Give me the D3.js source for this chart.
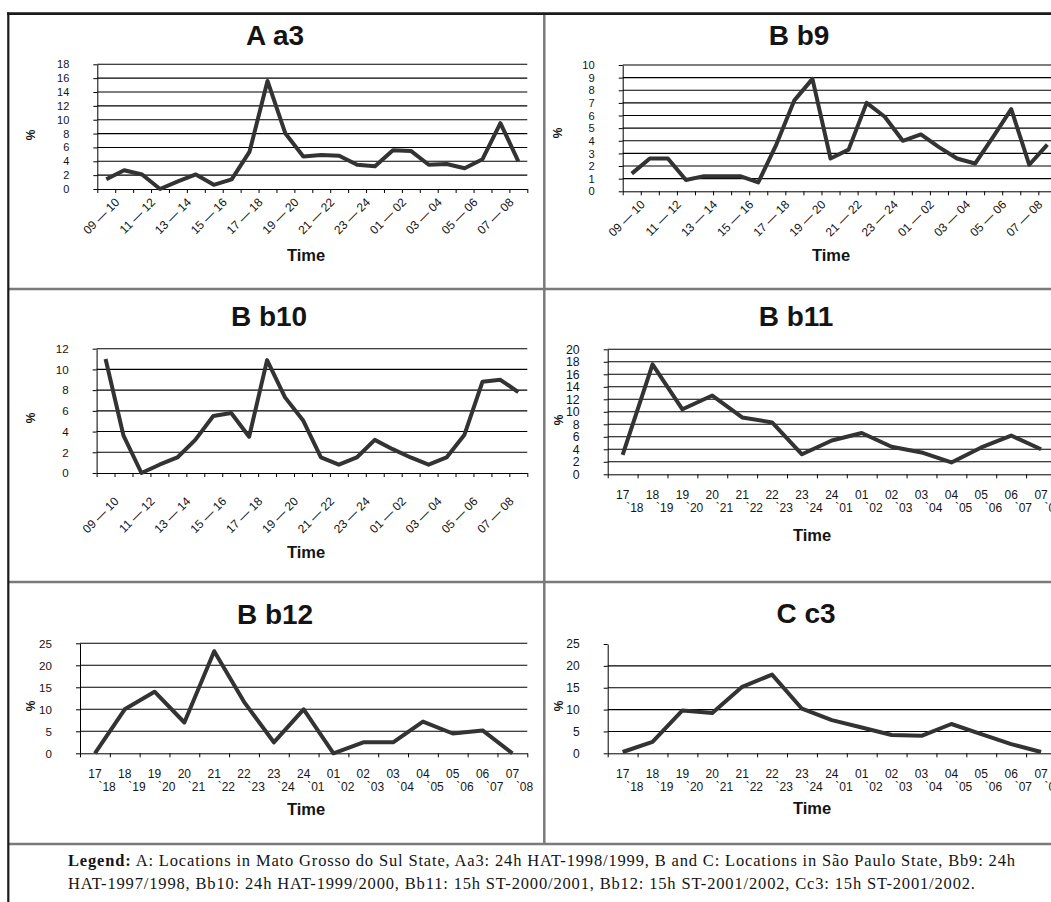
<!DOCTYPE html>
<html>
<head>
<meta charset="utf-8">
<script src="https://cdn.jsdelivr.net/npm/d3@7"></script>
<style>
  body { margin: 0; background: #fff; }
  svg text { font-family: "Liberation Sans", Arial, sans-serif; fill: #141414; }
  svg .legend text { font-family: "Liberation Serif", "DejaVu Serif", serif; }
</style>
</head>
<body>
<script>
// categories (hour intervals)
var cats24 = ["09 — 10", "10 — 11", "11 — 12", "12 — 13", "13 — 14", "14 — 15", "15 — 16", "16 — 17",
  "17 — 18", "18 — 19", "19 — 20", "20 — 21", "21 — 22", "22 — 23", "23 — 24", "24 — 01",
  "01 — 02", "02 — 03", "03 — 04", "04 — 05", "05 — 06", "06 — 07", "07 — 08", "08 — 09"];
var cats15 = ["17`18", "18`19", "19`20", "20`21", "21`22", "22`23", "23`24", "24`01",
  "01`02", "02`03", "03`04", "04`05", "05`06", "06`07", "07`08"];

// % values
var valsAa3 = [1.4, 2.7, 2.1, 0, 1.1, 2.1, 0.6, 1.4, 5.4, 15.6, 8.0, 4.7, 4.9, 4.8, 3.5, 3.3, 5.6, 5.5, 3.5, 3.6, 3.0, 4.3, 9.5, 4.0];
var valsBb9 = [1.4, 2.6, 2.6, 0.9, 1.2, 1.2, 1.2, 0.7, 3.7, 7.2, 8.9, 2.6, 3.3, 7.0, 5.9, 4.0, 4.5, 3.5, 2.6, 2.2, 4.3, 6.5, 2.1, 3.7];
var valsBb10 = [11.0, 3.6, 0, 0.8, 1.5, 3.2, 5.5, 5.8, 3.5, 10.9, 7.3, 5.1, 1.5, 0.8, 1.5, 3.2, 2.3, 1.5, 0.8, 1.5, 3.7, 8.8, 9.0, 7.8];
var valsBb11 = [3.1, 17.6, 10.4, 12.6, 9.1, 8.3, 3.2, 5.4, 6.6, 4.4, 3.5, 1.9, 4.3, 6.2, 4.0];
var valsBb12 = [0, 10.0, 14.0, 7.0, 23.2, 11.7, 2.5, 10.0, 0, 2.5, 2.5, 7.2, 4.5, 5.2, 0];
var valsCc3 = [0.3, 2.6, 9.8, 9.2, 15.2, 18.0, 10.2, 7.6, 5.9, 4.2, 4.0, 6.7, 4.4, 2.1, 0.3];

// y tick labels
var ticksAa3 = [0, 2, 4, 6, 8, 10, 12, 14, 16, 18];
var ticksBb9 = [0, 1, 2, 3, 4, 5, 6, 7, 8, 9, 10];
var ticksBb10 = [0, 2, 4, 6, 8, 10, 12];
var ticksBb11 = [0, 2, 4, 6, 8, 10, 12, 14, 16, 18, 20];
var ticksBb12 = [0, 5, 10, 15, 20, 25];
var ticksCc3 = [0, 5, 10, 15, 20, 25];

var titles = ["A a3", "B b9", "B b10", "B b11", "B b12", "C c3"];

var legendLine1 = "A: Locations in Mato Grosso do Sul State, Aa3: 24h HAT-1998/1999, B and C: Locations in São Paulo State, Bb9: 24h";
var legendLine2 = "HAT-1997/1998, Bb10: 24h HAT-1999/2000, Bb11: 15h ST-2000/2001, Bb12: 15h ST-2001/2002, Cc3: 15h ST-2001/2002.";

var svg = d3.select("body").append("svg")
  .attr("width", 1051)
  .attr("height", 902);

function drawPanel(p, cats, vals, ticks, title) {
  var g = svg.append("g");
  var top = d3.max(ticks);

  var x = d3.scaleBand().domain(d3.range(cats.length)).range([p.x0, p.x1]);
  var xEdge = d3.scaleLinear().domain([0, cats.length]).range([p.x0, p.x1]);
  var y = d3.scaleLinear().domain([0, top]).range([p.yBot, p.yTop]);
  var cx = i => x(i) + x.bandwidth() / 2;

  // gridlines
  g.selectAll("line.grid")
    .data(ticks.filter(t => t > 0 && (p.topGrid || t < top)))
    .enter()
    .append("line")
    .attr("x1", p.x0)
    .attr("x2", p.x1)
    .attr("y1", d => y(d))
    .attr("y2", d => y(d))
    .attr("stroke", "#000")
    .attr("stroke-width", 1.1);

  var yAxis = g.append("g")
    .attr("transform", `translate(${p.x0},0)`)
    .call(d3.axisLeft(y).tickValues(ticks).tickSize(4).tickSizeOuter(0).tickPadding(24));
  yAxis.selectAll("text").attr("font-size", p.yFont);

  // ticks sit on the category edges
  g.append("g")
    .attr("transform", `translate(0,${p.yBot})`)
    .call(d3.axisBottom(xEdge).tickValues(d3.range(cats.length + 1)).tickSize(4).tickSizeOuter(0).tickFormat(""));

  g.selectAll("path.domain, .tick line").attr("stroke", "#000");

  // x labels
  if (p.rotate) {
    g.selectAll("text.xl")
      .data(cats.map((c, i) => ({c: c, i: i})).filter(d => d.i % 2 === 0))
      .enter()
      .append("text")
      .attr("transform", d => `translate(${cx(d.i) + 11},${p.yBot + p.labY}) rotate(-45)`)
      .attr("text-anchor", "end")
      .attr("dy", "0.35em")
      .attr("font-size", 12)
      .text(d => d.c);
  } else {
    var lab = g.selectAll("text.xl")
      .data(cats)
      .enter()
      .append("text")
      .attr("font-size", 12);
    lab.append("tspan")
      .attr("x", (d, i) => cx(i))
      .attr("y", p.yBot + 25)
      .attr("text-anchor", "middle")
      .text(d => d.split("`")[0]);
    lab.append("tspan")
      .attr("x", (d, i) => cx(i) + 3.5)
      .attr("y", p.yBot + 38)
      .text(d => "`" + d.split("`")[1]);
  }

  var line = d3.line()
    .x((d, i) => cx(i))
    .y(d => y(d));

  g.append("path")
    .datum(vals)
    .attr("d", line)
    .attr("fill", "none")
    .attr("stroke", "#333")
    .attr("stroke-width", 4)
    .attr("stroke-linejoin", "round");

  g.append("text")
    .attr("x", p.tx)
    .attr("y", p.ty)
    .attr("text-anchor", "middle")
    .attr("font-size", 28)
    .attr("font-weight", "bold")
    .text(title);

  g.append("text")
    .attr("transform", `translate(${p.px},${p.py}) rotate(-90)`)
    .attr("text-anchor", "middle")
    .attr("dy", "0.35em")
    .attr("font-size", 12)
    .attr("font-weight", "bold")
    .text("%");

  g.append("text")
    .attr("x", p.mx)
    .attr("y", p.my)
    .attr("text-anchor", "middle")
    .attr("font-size", 16.5)
    .attr("font-weight", "bold")
    .text("Time");
}

drawPanel({x0: 97.3, x1: 527.3, yTop: 64.3, yBot: 189, topGrid: true, yFont: 11, rotate: true, labY: 11,
  tx: 275, ty: 45, px: 31, py: 135, mx: 306, my: 261}, cats24, valsAa3, ticksAa3, titles[0]);
drawPanel({x0: 622.7, x1: 1056.4, yTop: 65, yBot: 191.3, topGrid: true, yFont: 11.2, rotate: true, labY: 11,
  tx: 799, ty: 45, px: 558, py: 133, mx: 831, my: 261}, cats24, valsBb9, ticksBb9, titles[1]);
drawPanel({x0: 96.6, x1: 527.3, yTop: 348.7, yBot: 473, topGrid: true, yFont: 11.6, rotate: true, labY: 26,
  tx: 269, ty: 326, px: 31, py: 418, mx: 306, my: 558}, cats24, valsBb10, ticksBb10, titles[2]);
drawPanel({x0: 607.7, x1: 1056, yTop: 349.3, yBot: 474.3, topGrid: true, yFont: 12.3, rotate: false,
  tx: 796, ty: 326, px: 559, py: 420, mx: 812, my: 540.5}, cats15, valsBb11, ticksBb11, titles[3]);
drawPanel({x0: 80, x1: 527.3, yTop: 643.3, yBot: 753.3, topGrid: true, yFont: 11.6, rotate: false,
  tx: 275, ty: 624, px: 31, py: 706, mx: 306, my: 815}, cats15, valsBb12, ticksBb12, titles[4]);
drawPanel({x0: 607.7, x1: 1056, yTop: 644, yBot: 753.3, topGrid: false, yFont: 12, rotate: false,
  tx: 806, ty: 623, px: 559, py: 706, mx: 812, my: 814}, cats15, valsCc3, ticksCc3, titles[5]);

// frame and cell dividers
var frame = svg.append("g");
frame.append("line").attr("x1", 544.3).attr("x2", 544.3).attr("y1", 14).attr("y2", 845)
  .attr("stroke", "#7a7a7a").attr("stroke-width", 2.5);
[289, 582, 844].forEach(function(yy) {
  frame.append("line").attr("x1", 9).attr("x2", 1051).attr("y1", yy).attr("y2", yy)
    .attr("stroke", "#7a7a7a").attr("stroke-width", 2.5);
});
frame.append("line").attr("x1", 7).attr("x2", 1051).attr("y1", 13.6).attr("y2", 13.6)
  .attr("stroke", "#1a1a1a").attr("stroke-width", 2.6);
frame.append("line").attr("x1", 8.3).attr("x2", 8.3).attr("y1", 12.5).attr("y2", 902)
  .attr("stroke", "#1a1a1a").attr("stroke-width", 2.2);

// legend below the panels
var legend = svg.append("g").attr("class", "legend");
var l1 = legend.append("text")
  .attr("x", 68)
  .attr("y", 865.5)
  .attr("font-size", 16.5)
  .attr("textLength", 947)
  .attr("lengthAdjust", "spacing");
l1.append("tspan").attr("font-weight", "bold").text("Legend:");
l1.append("tspan").text(" " + legendLine1);
legend.append("text")
  .attr("x", 68)
  .attr("y", 889)
  .attr("font-size", 16.5)
  .attr("textLength", 907)
  .attr("lengthAdjust", "spacing")
  .text(legendLine2);
</script>
</body>
</html>
